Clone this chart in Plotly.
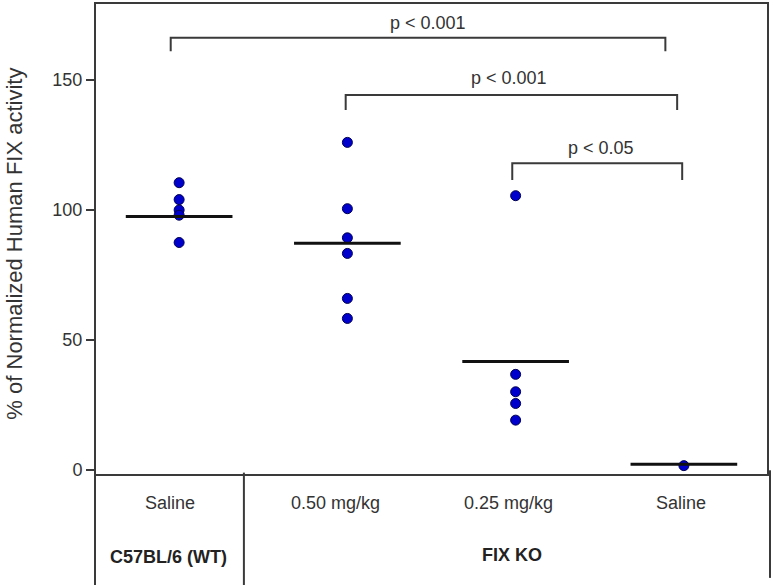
import plotly.graph_objects as go

# groups and values
group_x = [1, 2, 3, 4]
group_labels = ['Saline', '0.50 mg/kg', '0.25 mg/kg', 'Saline']
label_x = [0.947, 1.93, 2.96, 3.98]
wt_saline = [110.5, 104, 100, 98, 87.5]
ko_050 = [126, 100.5, 89.3, 83.3, 66, 58.3]
ko_025 = [105.5, 36.8, 30.1, 25.6, 19.2]
ko_saline = [1.7]
group_means = [97.5, 87.2, 41.7, 2.2]

# significance brackets: (left x, right x, bar height, tick bottom, label)
brackets = [
    (0.95, 3.89, 166.2, 161, 'p < 0.001'),
    (1.99, 3.96, 144.2, 138.5, 'p < 0.001'),
    (2.98, 3.99, 118.0, 111.5, 'p < 0.05'),
]
p_label_x = [2.48, 2.96, 3.51]
p_label_y = [171.8, 150.8, 123.8]

groups = [wt_saline, ko_050, ko_025, ko_saline]

fig = go.Figure()

for gx, vals in zip(group_x, groups):
    fig.add_trace(go.Scatter(
        x=[gx] * len(vals), y=vals, mode='markers',
        marker=dict(size=10, color='#0000CC', line=dict(color='#000055', width=1)),
        showlegend=False, hoverinfo='y'))

# mean bars
half = 0.317
for gx, m in zip(group_x, group_means):
    fig.add_trace(go.Scatter(
        x=[gx - half, gx + half], y=[m, m], mode='lines',
        line=dict(color='#111111', width=3), showlegend=False, hoverinfo='skip'))

shapes = []
annotations = []
line_col = '#3a3a3a'
txt_col = '#333333'
for (x0, x1, yb, yt, txt), lx, ly in zip(brackets, p_label_x, p_label_y):
    shapes.append(dict(type='path', xref='x', yref='y',
                       path=f'M {x0},{yt} L {x0},{yb} L {x1},{yb} L {x1},{yt}',
                       line=dict(color=line_col, width=2)))
    annotations.append(dict(x=lx, y=ly, xref='x', yref='y', text=txt,
                            xanchor='center', yanchor='middle',
                            showarrow=False, font=dict(size=18, color=txt_col)))

# plot frame
shapes.append(dict(type='rect', xref='paper', yref='paper', x0=0, x1=1, y0=0, y1=1,
                   line=dict(color=line_col, width=2)))
# table under the axis
div_x = 1.385
shapes.append(dict(type='line', xref='paper', yref='paper', x0=0, x1=0, y0=0, y1=-0.233,
                   line=dict(color=line_col, width=2)))
shapes.append(dict(type='line', xref='x', yref='paper', x0=div_x, x1=div_x, y0=0.005, y1=-0.233,
                   line=dict(color=line_col, width=2)))
shapes.append(dict(type='line', xref='paper', yref='paper', x0=1.003, x1=1.003, y0=0.01, y1=-0.218,
                   line=dict(color=line_col, width=2)))

for lx, lab in zip(label_x, group_labels):
    annotations.append(dict(x=lx, y=-0.0593, xref='x', yref='paper', text=lab,
                            xanchor='center', yanchor='middle',
                            showarrow=False, font=dict(size=18, color=txt_col)))
annotations.append(dict(x=0.935, y=-0.174, xref='x', yref='paper', text='<b>C57BL/6 (WT)</b>',
                        xanchor='center', yanchor='middle',
                        showarrow=False, font=dict(size=18, color='#222222')))
annotations.append(dict(x=2.98, y=-0.169, xref='x', yref='paper', text='<b>FIX KO</b>',
                        xanchor='center', yanchor='middle',
                        showarrow=False, font=dict(size=18, color='#222222')))
annotations.append(dict(x=-0.119, y=0.49, xref='paper', yref='paper',
                        text='% of Normalized Human FIX activity', textangle=-90,
                        xanchor='center', yanchor='middle',
                        showarrow=False, font=dict(size=22, color=txt_col)))

fig.update_layout(
    width=773, height=587,
    margin=dict(l=95, r=5, t=3, b=112),
    paper_bgcolor='white', plot_bgcolor='white',
    font=dict(family='Liberation Sans, Arial, sans-serif'),
    xaxis=dict(range=[0.5, 4.5], showticklabels=False, ticks='', showgrid=False,
               zeroline=False, showline=False),
    yaxis=dict(range=[-1.9, 179.6], tickvals=[0, 50, 100, 150], ticks='outside',
               ticklen=8, tickcolor=line_col, tickwidth=1.5, showgrid=False,
               zeroline=False, showline=False,
               tickfont=dict(size=18, color=txt_col)),
    shapes=shapes, annotations=annotations,
)

fig.write_html('out.html', config={'displayModeBar': False},
               post_script="document.body.style.margin='0';")
